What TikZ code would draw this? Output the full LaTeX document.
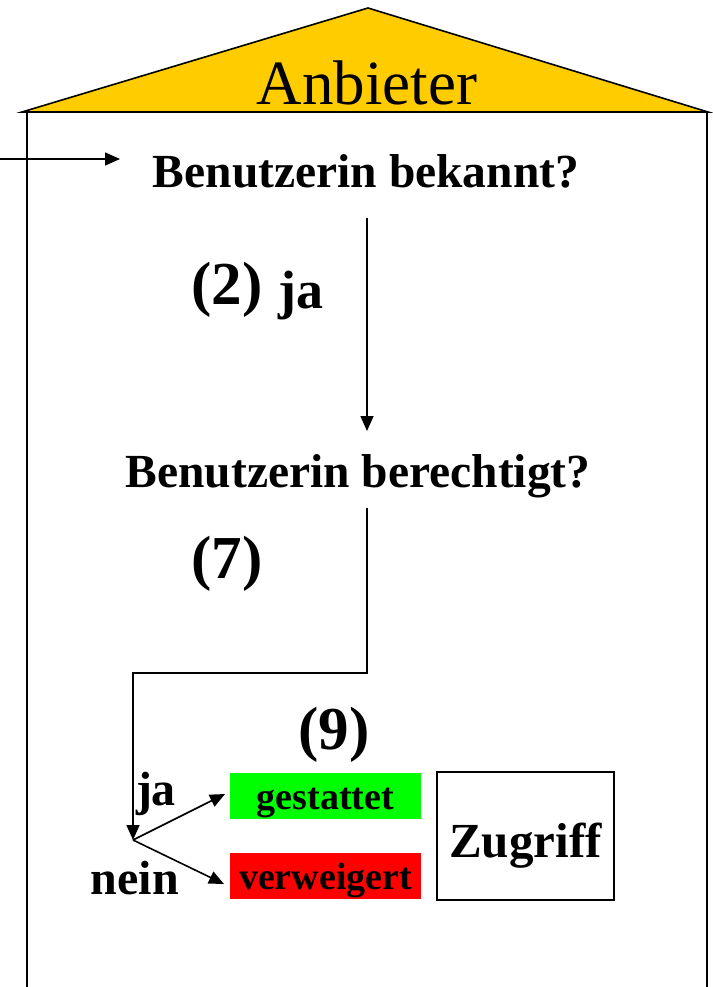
\documentclass[tikz,border=0pt]{standalone}
\usepackage{fontspec}
\setmainfont{Liberation Serif}
\usetikzlibrary{arrows.meta}
\definecolor{roofyellow}{RGB}{255,204,0}
\definecolor{okgreen}{RGB}{0,255,0}
\definecolor{nored}{RGB}{255,0,0}
\newcommand{\fs}[1]{\fontsize{#1}{#1}\selectfont}
\tikzset{
  conn/.style={line width=1.6pt, draw=black},
  arr/.style={conn, -{Triangle[length=15pt,width=13pt]}},
  lbl/.style={inner sep=0pt, anchor=base, font=\bfseries\fs{47.5}},
  big/.style={inner sep=0pt, anchor=base, font=\bfseries\fs{61}},
  small/.style={inner sep=0pt, anchor=base, font=\bfseries\fs{48}},
  boxtext/.style={inner sep=0pt, anchor=base, font=\bfseries\fs{38}},
  colbox/.style={minimum width=191pt, minimum height=46pt, inner sep=0pt},
}
\begin{document}
\begin{tikzpicture}[x=1pt,y=-1pt]
\useasboundingbox (0,0) rectangle (712,987);
% house
\filldraw[fill=roofyellow, draw=black, line width=1.6pt] (22,112) -- (368,8) -- (708,112) -- cycle;
\draw[conn] (27,112) -- (27,987);
\draw[conn] (707,112) -- (707,987);
\node[inner sep=0pt, anchor=base, font=\fs{63}] (anb) at (367,105) {Anbieter};
% texts
\node[lbl] (bek) at (366,187) {Benutzerin bekannt?};
\node[lbl] (ber) at (358,487) {Benutzerin berechtigt?};
\node[big] (n2) at (227,304) {(2)};
\node[small, font=\bfseries\fs{54}] (ja1) at (301,308) {ja};
\node[big] (n7) at (227,578) {(7)};
\node[big] (n9) at (334,749) {(9)};
\node[small] (ja2) at (156,805) {ja};
\node[small] (nein) at (135,894) {nein};
\node[colbox, fill=okgreen] (gest) at (325.5,796) {};
\node[boxtext] at (325.5,809) {gestattet};
\node[colbox, fill=nored] (verw) at (325.5,876) {};
\node[boxtext] at (325.5,889) {verweigert};
\node[draw=black, line width=1.5pt, minimum width=177pt, minimum height=128pt, inner sep=0pt] (zug) at (525.5,836) {};
\node[inner sep=0pt, anchor=base, font=\bfseries\fs{49}] at (525.5,857) {Zugriff};
% coordinates
\coordinate (in0) at (0,159);
\coordinate (in1) at (120,159);
\coordinate (v1) at (367,218);
\coordinate (v2) at (367,431);
\coordinate (w1) at (367,508);
\coordinate (w2) at (367,673);
\coordinate (w3) at (133,673);
\coordinate (br) at (133,840);
\coordinate (tg) at (225,794);
\coordinate (tv) at (224,884);
% connectors
\draw[arr] (in0) -- (in1);
\draw[arr] (v1) -- (v2);
\draw[arr] (w1) -- (w2) -- (w3) -- (br);
\draw[arr] (br) -- (tg);
\draw[arr] (br) -- (tv);
\end{tikzpicture}
\end{document}
